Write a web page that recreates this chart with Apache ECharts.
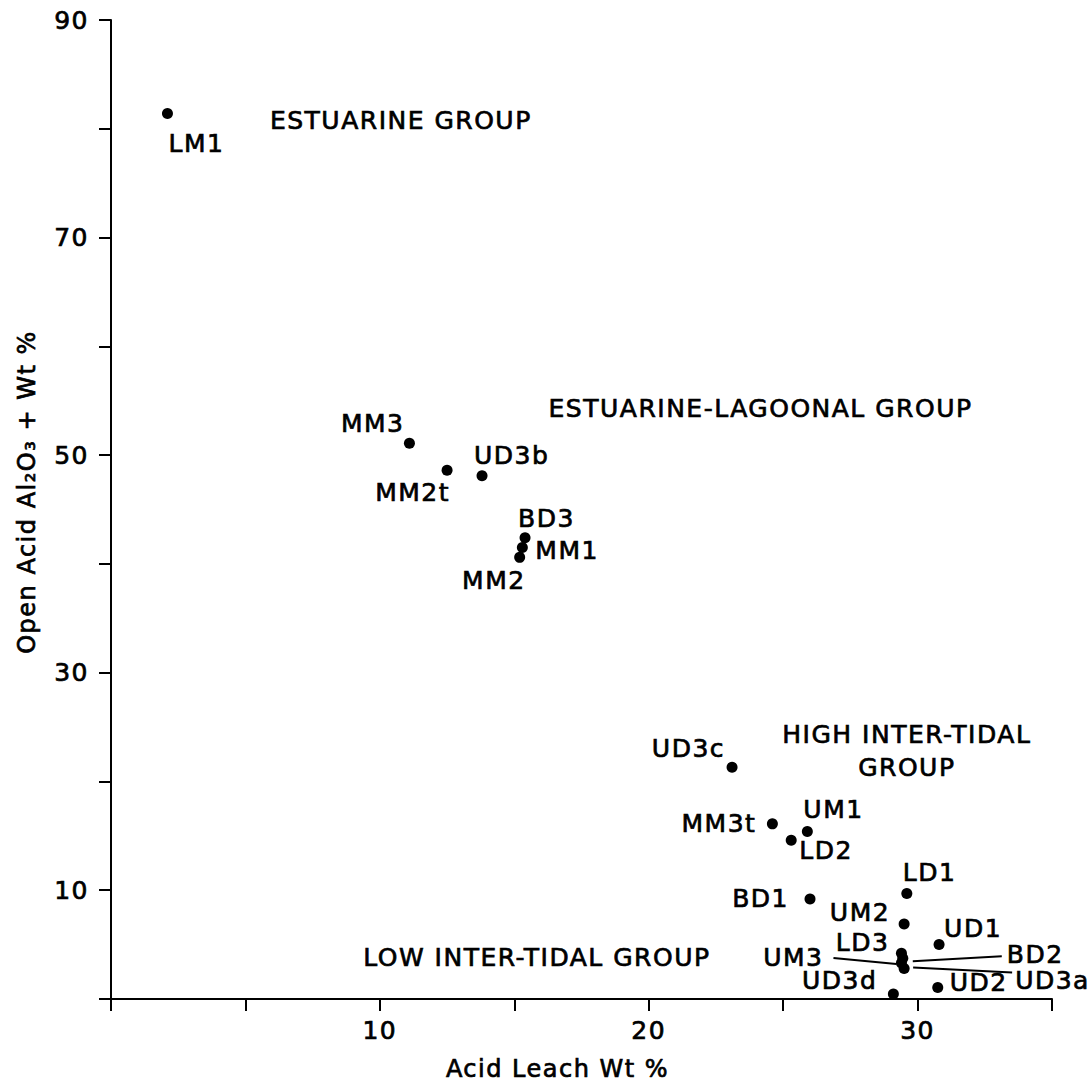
<!DOCTYPE html>
<html>
<head>
<meta charset="utf-8">
<script src="https://cdn.jsdelivr.net/npm/echarts@6/dist/echarts.min.js"></script>
<style>
  html, body { margin: 0; padding: 0; background: #fff; }
  #chart { width: 1089px; height: 1085px; }
  #chart text { letter-spacing: 1.5px; }
</style>
</head>
<body>
<div id="chart"></div>
<script>
// ---- data ----
const sampleNames = ['LM1','MM3','MM2t','UD3b','BD3','MM1','MM2','UD3c','MM3t','UM1','LD2','BD1','LD1','UM2','UD1','LD3','BD2','UM3','UD3a','UD3d','UD2'];
const acidLeachWt = [2.1, 11.1, 12.5, 13.8, 15.4, 15.3, 15.2, 23.1, 24.6, 25.9, 25.3, 26.0, 29.6, 29.5, 30.8, 29.4, 29.45, 29.4, 29.5, 29.1, 30.75];
const openAcidAl2O3 = [81.4, 51.1, 48.6, 48.1, 42.4, 41.5, 40.6, 21.3, 16.1, 15.4, 14.6, 9.2, 9.7, 6.9, 5.0, 4.2, 3.75, 3.3, 2.8, 0.45, 1.05];

const groupNames = ['ESTUARINE GROUP', 'ESTUARINE-LAGOONAL GROUP', 'HIGH INTER-TIDAL\nGROUP', 'LOW INTER-TIDAL GROUP'];
const groupX = [10.78, 24.16, 29.6, 15.84];
const groupY = [80.8, 54.3, 22.8, 3.77];

const xTickLabels = [10, 20, 30];
const yTickLabels = [10, 30, 50, 70, 90];

// ---- label layout (pixel offsets from each dot) ----
const labelStyle = {
  LM1: ['left', 1, 30], MM3: ['right', -5, -20], MM2t: ['right', 3, 22], UD3b: ['left', -8, -20],
  BD3: ['left', -7, -19], MM1: ['left', 13, 3], MM2: ['right', 6, 23], UD3c: ['right', -7, -19],
  MM3t: ['right', -16, 0], UM1: ['left', -4, -22], LD2: ['left', 8, 10], BD1: ['right', -21, 0],
  LD1: ['left', -4, -21], UM2: ['right', -14, -11], UD1: ['left', 5, -16], LD3: ['right', -12, -11],
  UM3: ['right', -78, -6], BD2: ['left', 104, -4], UD3a: ['left', 111, 12], UD3d: ['right', -16, -14],
  UD2: ['left', 12, -5]
};
const leaders = {
  UM3: [[-5, 1], [-68, -5]],
  BD2: [[10, 3], [99, -2]],
  UD3a: [[9, -1], [108, 4]]
};

const FONT = 'DejaVu Sans';
const INK = '#000';
const BOLDEN = { textBorderColor: INK, textBorderWidth: 0.7 };
const chart = echarts.init(document.getElementById('chart'), null, { renderer: 'svg' });

const points = sampleNames.map((n, i) => {
  const s = labelStyle[n];
  return {
    name: n,
    value: [acidLeachWt[i], openAcidAl2O3[i]],
    label: { show: true, formatter: n, position: 'inside', align: s[0], verticalAlign: 'middle', offset: [s[1], s[2]], color: INK }
  };
});
const groups = groupNames.map((g, i) => ({ name: g, value: [groupX[i], groupY[i]] }));

chart.setOption({
  animation: false,
  backgroundColor: '#fff',
  grid: { left: 111, right: 37, top: 20, bottom: 86, containLabel: false, outerBoundsMode: 'none' },
  xAxis: {
    type: 'value', min: 0, max: 35, interval: 5,
    name: 'Acid Leach Wt %', nameLocation: 'middle', nameGap: 58,
    nameTextStyle: Object.assign({ fontFamily: FONT, fontSize: 24, color: INK, padding: [0, 48, 0, 0] }, BOLDEN),
    axisLine: { show: true, onZero: false, lineStyle: { color: INK, width: 2 } },
    axisTick: { show: true, inside: false, length: 12, lineStyle: { color: INK, width: 2 } },
    axisLabel: Object.assign({
      show: true, margin: 19, fontFamily: FONT, fontSize: 25, color: INK,
      formatter: v => xTickLabels.indexOf(v) >= 0 ? String(v) : ''
    }, BOLDEN),
    splitLine: { show: false }
  },
  yAxis: {
    type: 'value', min: 0, max: 90, interval: 10,
    name: 'Open Acid Al\u2082O\u2083 + Wt %', nameLocation: 'middle', nameGap: 72,
    nameTextStyle: Object.assign({ fontFamily: FONT, fontSize: 24, color: INK, padding: [0, 0, 0, 35] }, BOLDEN),
    axisLine: { show: true, onZero: false, lineStyle: { color: INK, width: 2 } },
    axisTick: { show: true, inside: false, length: 12, lineStyle: { color: INK, width: 2 } },
    axisLabel: Object.assign({
      show: true, margin: 22, fontFamily: FONT, fontSize: 25, color: INK,
      formatter: v => yTickLabels.indexOf(v) >= 0 ? String(v) : ''
    }, BOLDEN),
    splitLine: { show: false }
  },
  series: [
    {
      type: 'scatter', symbol: 'circle', symbolSize: 11,
      itemStyle: { color: INK, opacity: 1 },
      label: Object.assign({ color: INK, fontFamily: FONT, fontSize: 25, lineHeight: 22 }, BOLDEN),
      emphasis: { disabled: true },
      data: points, z: 3
    },
    {
      type: 'scatter', symbolSize: 0,
      itemStyle: { opacity: 1 },
      label: Object.assign({
        show: true, position: 'inside', formatter: p => p.name, color: INK,
        fontFamily: FONT, fontSize: 25, lineHeight: 33, align: 'center', verticalAlign: 'middle'
      }, BOLDEN),
      emphasis: { disabled: true },
      data: groups, z: 2
    }
  ]
});

// leader lines from dots to shifted labels
const lines = [];
Object.keys(leaders).forEach(n => {
  const i = sampleNames.indexOf(n);
  const p = chart.convertToPixel({ seriesIndex: 0 }, [acidLeachWt[i], openAcidAl2O3[i]]);
  const a = leaders[n][0], b = leaders[n][1];
  lines.push({
    type: 'line', silent: true, z: 10,
    shape: { x1: p[0] + a[0], y1: p[1] + a[1], x2: p[0] + b[0], y2: p[1] + b[1] },
    style: { stroke: INK, lineWidth: 2 }
  });
});
chart.setOption({ graphic: lines });
</script>
</body>
</html>
